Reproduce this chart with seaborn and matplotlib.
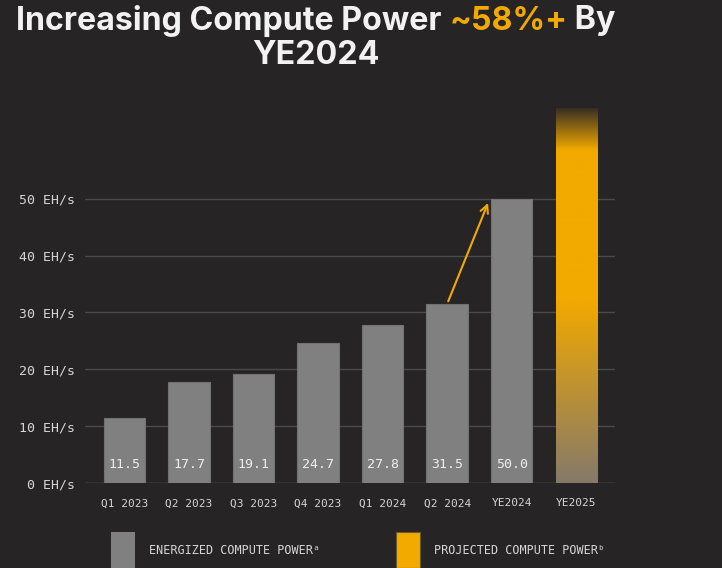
import matplotlib
matplotlib.use("Agg")
import matplotlib.pyplot as plt
import matplotlib.patches as mpatches
import numpy as np
import seaborn as sns

BG = "#262425"
GRAY = "#808080"
ORANGE = "#f2a900"
TEXT = "#d6d6d6"

quarters = ["Q1 2023", "Q2 2023", "Q3 2023", "Q4 2023", "Q1 2024", "Q2 2024", "YE2024", "YE2025"]
hashrate = [11.5, 17.7, 19.1, 24.7, 27.8, 31.5, 50.0, 66.0]
kind = ["Energized"] * 7 + ["Projected"]
y_ticks = [0, 10, 20, 30, 40, 50]
legend_labels = ["ENERGIZED COMPUTE POWER\u1d43", "PROJECTED COMPUTE POWER\u1d47"]

sns.set_theme(style="dark")
mono = ["DejaVu Sans Mono", "DejaVu Sans"]

fig = plt.figure(figsize=(7.22, 5.68), dpi=100, facecolor=BG)
ax = fig.add_axes([0.1177, 0.1496, 0.8518 - 0.1177, 0.8204 - 0.1496])
ax.set_facecolor(BG)

sns.barplot(x=quarters, y=hashrate, hue=kind, palette={"Energized": GRAY, "Projected": ORANGE},
            dodge=False, width=0.64, legend=False, saturation=1, ax=ax,
            edgecolor="#727272", linewidth=0.8)

ax.set_axisbelow(True)
ax.set_yticks(y_ticks)
ax.set_yticklabels([f"{v} EH/s" for v in y_ticks], family=mono, fontsize=9.5, color=TEXT)
ax.set_xticks(range(len(quarters)))
ax.set_xticklabels(quarters, family=mono, fontsize=8, color=TEXT)
ax.tick_params(axis="y", length=0, pad=7)
ax.tick_params(axis="x", length=0, pad=11)
ax.grid(axis="y", color="#4a4a4a", linewidth=1)
ax.grid(axis="x", visible=False)
for s in ax.spines.values():
    s.set_visible(False)
ax.axhline(0, color="#5c5c5c", linewidth=1, zorder=0.5)

# gradient on the projected bar
proj = ax.patches[-1]
x0, w, top = proj.get_x(), proj.get_width(), proj.get_height()
n = 400
yy = np.linspace(0, top, n)
orange = np.array(matplotlib.colors.to_rgb(ORANGE))
tan = np.array(matplotlib.colors.to_rgb("#85796a"))
dark = np.array(matplotlib.colors.to_rgb("#342c22"))
img = np.ones((n, 1, 4))
for i, v in enumerate(yy):
    if v < 32:
        t = v / 32
        c = tan * (1 - t) + orange * t
    elif v > 58.5:
        t = (v - 58.5) / (top - 58.5)
        c = orange * (1 - t) + dark * t
    else:
        c = orange
    img[i, 0, :3] = c
im = ax.imshow(img, extent=(x0, x0 + w, 0, top), origin="lower", aspect="auto", zorder=2)
im.set_clip_path(proj)
proj.set_facecolor("none")
proj.set_edgecolor("none")
ax.set_xlim(-0.61, 7.6)
ax.set_ylim(0, 67)

for i, v in enumerate(hashrate[:7]):
    ax.text(i, 3.3, f"{v:.1f}", ha="center", va="center", family=mono, fontsize=9.5,
            color="#eeeeee", zorder=3)

ax.annotate("", xy=(5.65, 49.7), xytext=(5.0, 31.5),
            arrowprops=dict(arrowstyle="->", color=ORANGE, lw=1.5, mutation_scale=14), zorder=4)

# title with coloured part
renderer = fig.canvas.get_renderer()
parts = [("Increasing Compute Power ", "#f2f2f2"), ("~58%+", ORANGE), (" By", "#f2f2f2")]
tkw = dict(family="Inter", fontweight="bold", fontsize=23.2)
widths = []
for s, c in parts:
    t = fig.text(0, 0, s, **tkw)
    widths.append(t.get_window_extent(renderer).width)
    t.remove()
x = 316 - sum(widths) / 2
for (s, c), wd in zip(parts, widths):
    fig.text(x / 722, 1 - 21 / 568, s, color=c, ha="left", va="center", **tkw)
    x += wd
fig.text(316 / 722, 1 - 55 / 568, "YE2024", color="#f2f2f2", ha="center", va="center", **tkw)

# legend
for lx, col, lab in [(111, GRAY, legend_labels[0]), (396, ORANGE, legend_labels[1])]:
    fig.patches.append(mpatches.Rectangle((lx / 722, 0), 24 / 722, 36 / 568, transform=fig.transFigure,
                                          facecolor=col, edgecolor="#6a5a2a" if col == ORANGE else "none",
                                          linewidth=0.8))
    fig.text((lx + 38) / 722, 1 - 550 / 568, lab, family=mono, fontsize=8.5, color=TEXT, va="center")

fig.savefig("out.png", dpi=100, facecolor=BG)
